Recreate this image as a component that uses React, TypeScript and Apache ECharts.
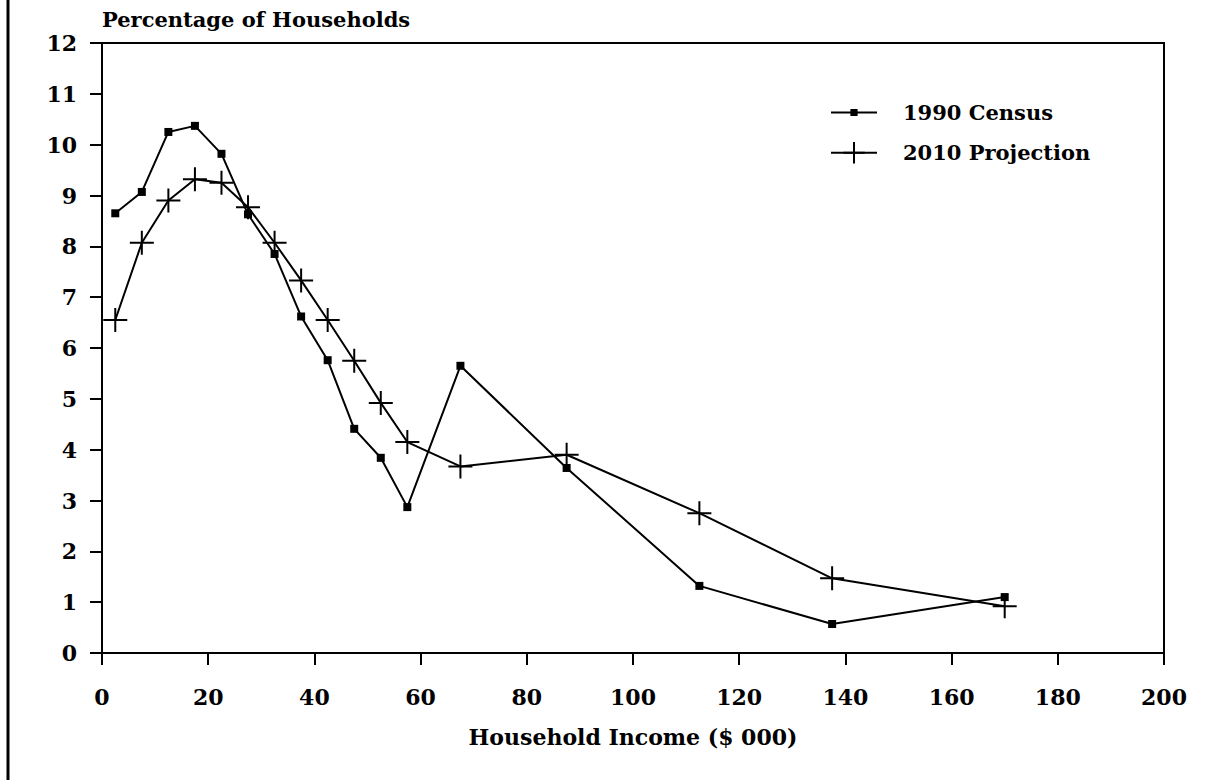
import React, { useEffect, useRef } from "react";
import * as echarts from "echarts";

const incomeMid = [2.5, 7.5, 12.5, 17.5, 22.5, 27.5, 32.5, 37.5, 42.5, 47.5, 52.5, 57.5, 67.5, 87.5, 112.5, 137.5, 170];
const census1990 = [8.65, 9.07, 10.25, 10.37, 9.82, 8.63, 7.85, 6.62, 5.76, 4.41, 3.84, 2.87, 5.65, 3.64, 1.32, 0.57, 1.1];
const projection2010 = [6.55, 8.07, 8.9, 9.32, 9.25, 8.77, 8.07, 7.33, 6.55, 5.75, 4.92, 4.15, 3.67, 3.9, 2.75, 1.47, 0.92];
const seriesNames = ["1990 Census", "2010 Projection"];
const yAxisTitle = "Percentage of Households";
const xAxisTitle = "Household Income ($ 000)";

const FONT = "'DejaVu Serif', serif";
const CROSS = "path://M12 0 L12 24 M0 12 L24 12";

export default function App() {
  const ref = useRef<HTMLDivElement>(null);
  useEffect(() => {
    const chart = echarts.init(ref.current!, null, { renderer: "svg" });
    const pair = (ys: number[]) => incomeMid.map((x, i) => [x, ys[i]]);
    const legendText = { fontFamily: FONT, fontWeight: "bold", fontSize: 21, color: "#000", padding: [0, 0, 0, 21] };
    chart.setOption({
      animation: false,
      backgroundColor: "#fff",
      textStyle: { fontFamily: FONT, color: "#000" },
      grid: {
        left: 102,
        top: 43,
        right: 53,
        bottom: 127,
        show: true,
        borderColor: "#000",
        borderWidth: 2,
        backgroundColor: "transparent",
      },
      legend: [
        {
          data: [seriesNames[0]],
          orient: "vertical",
          left: 825,
          top: 97,
          itemWidth: 46,
          itemHeight: 9,
          textStyle: legendText,
        },
        {
          data: [seriesNames[1]],
          orient: "vertical",
          left: 825,
          top: 136,
          itemWidth: 46,
          itemHeight: 27,
          textStyle: legendText,
        },
      ],
      xAxis: {
        type: "value",
        min: 0,
        max: 200,
        interval: 20,
        name: xAxisTitle,
        nameLocation: "middle",
        nameGap: 73,
        nameTextStyle: { fontFamily: FONT, fontWeight: "bold", fontSize: 22, color: "#000" },
        axisLine: { show: true, lineStyle: { color: "#000", width: 2 } },
        axisTick: { show: true, inside: false, length: 12, lineStyle: { color: "#000", width: 2 } },
        axisLabel: { fontFamily: FONT, fontWeight: "bold", fontSize: 22, color: "#000", margin: 33 },
        splitLine: { show: false },
      },
      yAxis: {
        type: "value",
        min: 0,
        max: 12,
        interval: 1,
        name: yAxisTitle,
        nameLocation: "end",
        nameGap: 24,
        nameTextStyle: { fontFamily: FONT, fontWeight: "bold", fontSize: 21, color: "#000", align: "left", verticalAlign: "middle" },
        axisLine: { show: true, lineStyle: { color: "#000", width: 2 } },
        axisTick: { show: true, inside: false, length: 12, lineStyle: { color: "#000", width: 2 } },
        axisLabel: { fontFamily: FONT, fontWeight: "bold", fontSize: 22, color: "#000", margin: 25 },
        splitLine: { show: false },
      },
      graphic: [
        {
          type: "line",
          shape: { x1: 8, y1: 0, x2: 8, y2: 780 },
          style: { stroke: "#000", lineWidth: 3 },
        },
      ],
      series: [
        {
          name: seriesNames[0],
          type: "line",
          data: pair(census1990),
          symbol: "rect",
          symbolSize: 8,
          showAllSymbol: true,
          lineStyle: { color: "#000", width: 2 },
          itemStyle: { color: "#000" },
        },
        {
          name: seriesNames[1],
          type: "line",
          data: pair(projection2010),
          symbol: CROSS,
          symbolSize: 24,
          showAllSymbol: true,
          lineStyle: { color: "#000", width: 2 },
          itemStyle: { color: "#000", borderColor: "#000", borderWidth: 2 },
        },
      ],
    });
    return () => chart.dispose();
  }, []);
  return (
    <div
      ref={ref}
      style={{ position: "absolute", left: 0, top: 0, width: 1217, height: 780 }}
    />
  );
}
